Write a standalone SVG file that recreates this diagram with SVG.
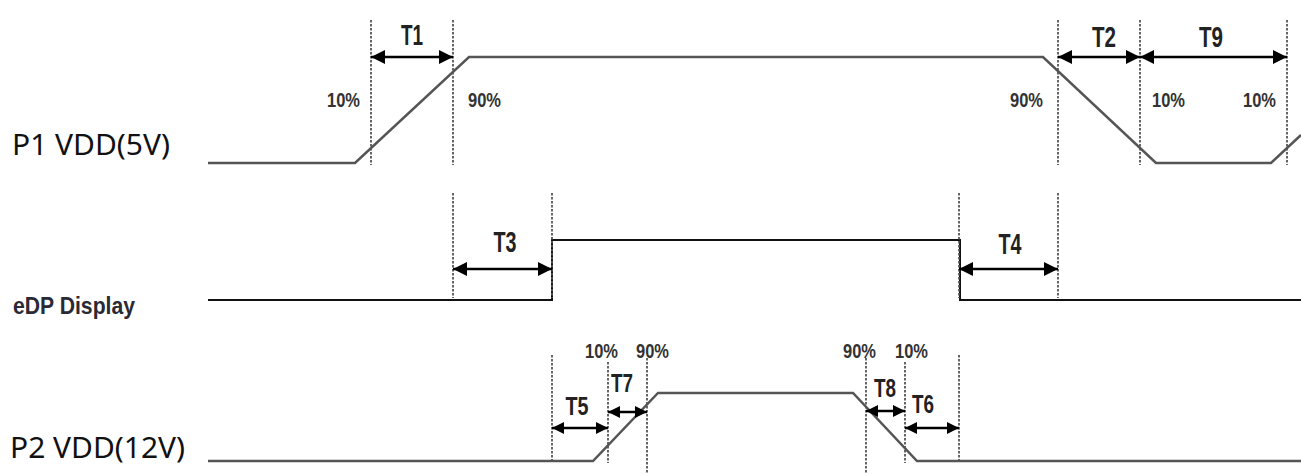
<svg xmlns="http://www.w3.org/2000/svg" width="1301" height="474" viewBox="0 0 1301 474">
  <defs>
    <marker id="ah" viewBox="0 0 10 10" refX="10" refY="5" markerUnits="userSpaceOnUse" markerWidth="15" markerHeight="14" orient="auto-start-reverse">
      <path d="M0,0 L10,5 L0,10 z" fill="#000"/>
    </marker>
    <marker id="ahs" viewBox="0 0 10 10" refX="10" refY="5" markerUnits="userSpaceOnUse" markerWidth="12" markerHeight="12" orient="auto-start-reverse">
      <path d="M0,0 L10,5 L0,10 z" fill="#000"/>
    </marker>
  </defs>
  <style>
    .sig { fill: none; stroke: #555; stroke-width: 2.5; stroke-linejoin: miter; }
    .sig2 { fill: none; stroke: #111; stroke-width: 2; }
    .dash { fill: none; stroke: #555; stroke-width: 1.8; stroke-dasharray: 2.5 1.5; }
    .dim { fill: none; stroke: #000; stroke-width: 2.5; marker-start: url(#ah); marker-end: url(#ah); }
    .dims { fill: none; stroke: #000; stroke-width: 2.5; marker-start: url(#ahs); marker-end: url(#ahs); }
    .t { font-family: "Liberation Sans", Arial, sans-serif; font-weight: bold; font-size: 29px; fill: #222; text-anchor: middle; }
    .ts { font-family: "Liberation Sans", Arial, sans-serif; font-weight: bold; font-size: 26px; fill: #222; text-anchor: middle; }
    .pct { font-family: "Liberation Sans", Arial, sans-serif; font-weight: bold; font-size: 21px; fill: #333; }
    .name { font-family: "Noto Sans", "Open Sans", sans-serif; font-size: 29px; fill: #111; }
    .edp { font-family: "Liberation Sans", Arial, sans-serif; font-weight: bold; font-size: 24px; fill: #2a2a35; }
  </style>

  <g id="signal-p1">
    <text class="name" x="12" y="155" textLength="158" lengthAdjust="spacingAndGlyphs">P1 VDD(5V)</text>
    <path class="sig" d="M208,163 L355,163 L469,57 L1043,57 L1156,163 L1271,163 L1301,135"/>
  </g>

  <g id="signal-edp">
    <text class="edp" x="13" y="314" textLength="122" lengthAdjust="spacingAndGlyphs">eDP Display</text>
    <path class="sig2" d="M208,300 L552,300 L552,240 L960,240 L960,300 L1301,300"/>
  </g>

  <g id="signal-p2">
    <text class="name" x="10" y="458" textLength="175" lengthAdjust="spacingAndGlyphs">P2 VDD(12V)</text>
    <path class="sig" d="M208,461 L593,461 L658,393 L853,393 L917,461 L1301,461"/>
  </g>

  <g id="connectors">
    <line class="dash" x1="371" y1="20" x2="371" y2="165"/>
    <line class="dash" x1="453" y1="20" x2="453" y2="165"/>
    <line class="dash" x1="1058" y1="20" x2="1058" y2="165"/>
    <line class="dash" x1="1140" y1="20" x2="1140" y2="165"/>
    <line class="dash" x1="1287" y1="20" x2="1287" y2="165"/>
    <line class="dash" x1="453" y1="193" x2="453" y2="298"/>
    <line class="dash" x1="552" y1="193" x2="552" y2="298"/>
    <line class="dash" x1="959" y1="193" x2="959" y2="298"/>
    <line class="dash" x1="1058" y1="193" x2="1058" y2="298"/>
    <line class="dash" x1="552" y1="355" x2="552" y2="461"/>
    <line class="dash" x1="608" y1="362" x2="608" y2="463"/>
    <line class="dash" x1="647" y1="358" x2="647" y2="474"/>
    <line class="dash" x1="866" y1="358" x2="866" y2="474"/>
    <line class="dash" x1="905" y1="362" x2="905" y2="463"/>
    <line class="dash" x1="959" y1="355" x2="959" y2="461"/>

    <line class="dim" x1="371" y1="57" x2="453" y2="57"/>
    <line class="dim" x1="1058" y1="57" x2="1140" y2="57"/>
    <line class="dim" x1="1140" y1="57" x2="1287" y2="57"/>
    <line class="dim" x1="453" y1="269" x2="552" y2="269"/>
    <line class="dim" x1="959" y1="269" x2="1058" y2="269"/>
    <line class="dims" x1="552" y1="428" x2="608" y2="428"/>
    <line class="dims" x1="608" y1="412" x2="647" y2="412"/>
    <line class="dims" x1="866" y1="411" x2="905" y2="411"/>
    <line class="dims" x1="905" y1="428" x2="959" y2="428"/>
  </g>

  <g id="labels">
    <text class="t" x="412" y="45" textLength="22" lengthAdjust="spacingAndGlyphs">T1</text>
    <text class="t" x="1104" y="47" textLength="24" lengthAdjust="spacingAndGlyphs">T2</text>
    <text class="t" x="1211" y="47" textLength="24" lengthAdjust="spacingAndGlyphs">T9</text>
    <text class="t" x="505" y="252" textLength="23" lengthAdjust="spacingAndGlyphs">T3</text>
    <text class="t" x="1010" y="254" textLength="23" lengthAdjust="spacingAndGlyphs">T4</text>
    <text class="ts" x="577" y="415" textLength="23" lengthAdjust="spacingAndGlyphs">T5</text>
    <text class="ts" x="622" y="392" textLength="22" lengthAdjust="spacingAndGlyphs">T7</text>
    <text class="ts" x="885" y="397" textLength="22" lengthAdjust="spacingAndGlyphs">T8</text>
    <text class="ts" x="923" y="413" textLength="22" lengthAdjust="spacingAndGlyphs">T6</text>

    <text class="pct" x="327" y="107" textLength="33" lengthAdjust="spacingAndGlyphs">10%</text>
    <text class="pct" x="468" y="107" textLength="33" lengthAdjust="spacingAndGlyphs">90%</text>
    <text class="pct" x="1010" y="107" textLength="33" lengthAdjust="spacingAndGlyphs">90%</text>
    <text class="pct" x="1152" y="107" textLength="33" lengthAdjust="spacingAndGlyphs">10%</text>
    <text class="pct" x="1243" y="107" textLength="33" lengthAdjust="spacingAndGlyphs">10%</text>

    <text class="pct" x="585" y="358" textLength="33" lengthAdjust="spacingAndGlyphs">10%</text>
    <text class="pct" x="636" y="358" textLength="33" lengthAdjust="spacingAndGlyphs">90%</text>
    <text class="pct" x="843" y="358" textLength="33" lengthAdjust="spacingAndGlyphs">90%</text>
    <text class="pct" x="895" y="358" textLength="33" lengthAdjust="spacingAndGlyphs">10%</text>
  </g>
</svg>
